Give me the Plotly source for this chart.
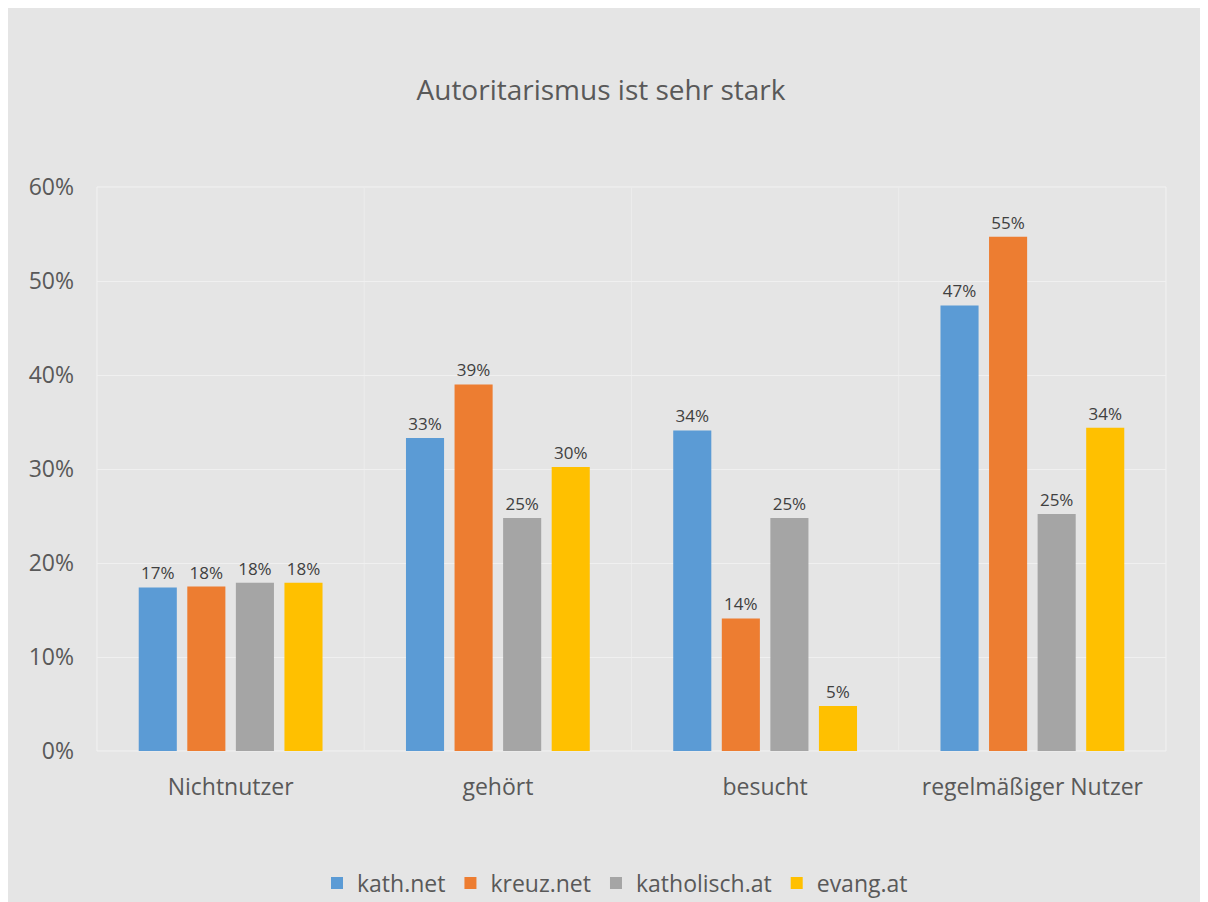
import plotly.graph_objects as go

categories = ["Nichtnutzer", "gehört", "besucht", "regelmäßiger Nutzer"]
series_names = ["kath.net", "kreuz.net", "katholisch.at", "evang.at"]
kath_net = [0.174, 0.333, 0.341, 0.474]
kreuz_net = [0.175, 0.390, 0.141, 0.547]
katholisch_at = [0.179, 0.248, 0.248, 0.252]
evang_at = [0.179, 0.302, 0.048, 0.344]
series_values = [kath_net, kreuz_net, katholisch_at, evang_at]
colors = ["#5b9bd5", "#ed7d31", "#a5a5a5", "#ffc000"]
y_ticks = [0, 0.1, 0.2, 0.3, 0.4, 0.5, 0.6]

FONT = "Open Sans"
fig = go.Figure()
for name, vals, col in zip(series_names, series_values, colors):
    fig.add_trace(go.Bar(
        x=categories, y=vals, name=name, marker_color=col, marker_line_width=0,
        texttemplate="%{y:.0%}", textposition="outside", cliponaxis=False,
        textfont=dict(family=FONT, size=17, color="#404040"),
    ))

# figure is placed by the page at offset (8, 8)
OX, OY = 8, 8
W, H = 1216, 910
L, T = 97 - OX, 187 - OY
R = W - (1166 - OX)
B = H - (751 - OY)

shapes = [dict(type="rect", xref="paper", yref="paper", layer="below",
               x0=0, x1=1, y0=0, y1=1, line=dict(color="#f2f2f2", width=1))]
for xs in [0.5, 1.5, 2.5]:
    shapes.append(dict(type="line", xref="x", yref="paper", layer="below",
                       x0=xs, x1=xs, y0=0, y1=1, line=dict(color="#ececec", width=1)))

fig.update_layout(
    width=W, height=H,
    margin=dict(l=L, r=R, t=T, b=B),
    paper_bgcolor="#e5e5e5", plot_bgcolor="rgba(0,0,0,0)",
    barmode="group", bargap=0.273, bargroupgap=0.216,
    title=dict(text="Autoritarismus ist sehr stark", x=(601 - OX) / W, xref="container",
               xanchor="center", y=1 - (90 - OY) / H, yref="container", yanchor="middle",
               font=dict(family=FONT, size=28, color="#595959")),
    font=dict(family=FONT, color="#595959"),
    shapes=shapes,
    legend=dict(orientation="h", x=(615 - OX) / W, xanchor="center", xref="container",
                y=1 - (883 - OY) / H, yref="container", yanchor="middle",
                font=dict(family=FONT, size=23, color="#595959"),
                itemwidth=30, bgcolor="rgba(0,0,0,0)"),
    yaxis=dict(range=[0, 0.6], tickvals=y_ticks, tickformat=".0%",
               showgrid=True, gridcolor="#f0f0f0", gridwidth=1,
               zeroline=False, showline=False, ticks="",
               tickfont=dict(family=FONT, size=23, color="#595959"), ticklabelstandoff=22),
    xaxis=dict(showgrid=False, showline=False, ticks="",
               tickfont=dict(family=FONT, size=23, color="#595959"), ticklabelstandoff=20),
)

fig.write_html("out.html")
